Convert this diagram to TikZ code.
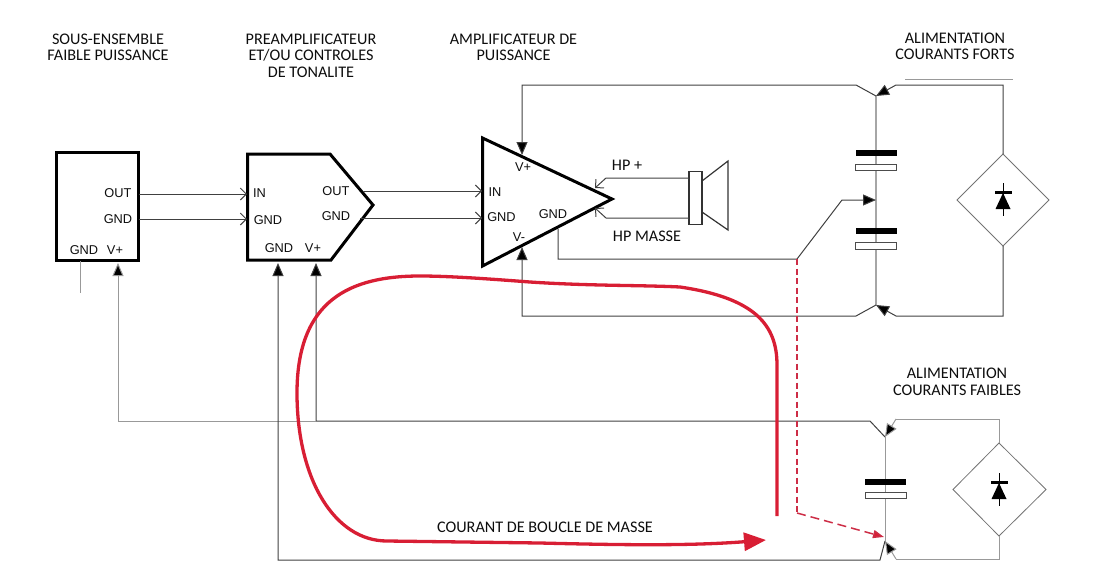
\documentclass[tikz,border=0pt]{standalone}
\usepackage{fontspec}
\setmainfont{Carlito}
\newfontfamily\arialfont{Liberation Sans}
\usetikzlibrary{arrows.meta,positioning,calc}

\definecolor{loopred}{RGB}{216,30,52}
\definecolor{dashred}{RGB}{205,45,70}

\tikzset{
	wire/.style={draw=black!75,line width=1pt,line join=miter},
	wirepale/.style={draw=black!40,line width=1pt},
	rail/.style={draw=black!35,line width=1.2pt},
	block/.style={draw=black,line width=3pt,line join=miter},
	openin/.style={-{Straight Barb[length=6pt,width=12pt]}},
	solidin/.style={-{Triangle[length=13pt,width=11pt,fill=black]}},
	caption/.style={font=\fontsize{16.2}{16.5}\selectfont,align=center,inner sep=0pt,text=black!95},
	pinlabel/.style={font=\arialfont\fontsize{12.8}{14}\selectfont,inner sep=0pt,text=black!95},
	groundred/.style={draw=loopred,line width=3.3pt},
}

\begin{document}
\begin{tikzpicture}[x=1pt,y=-1pt]
	\useasboundingbox (0,0) rectangle (1097,581);
	
	% sub-block outlines
	\node[block,minimum width=81.7pt,minimum height=107.5pt,inner sep=0pt] (lowpower) at (97.2,206.5) {};
	\coordinate (preA) at (247.5,154);
	\coordinate (preB) at (330,154);
	\coordinate (preC) at (373,205);
	\coordinate (preD) at (331,260);
	\coordinate (preE) at (247.5,260);
	\draw[block] (preA)--(preB)--(preC)--(preD)--(preE)--cycle;
	\coordinate (ampA) at (482.5,138);
	\coordinate (ampB) at (612,199);
	\coordinate (ampC) at (482.5,266);
	\draw[block] (ampA)--(ampB)--(ampC)--cycle;
	
	% loudspeaker
	\node[draw=black!80,line width=1.2pt,minimum width=13pt,minimum height=53pt,inner sep=0pt] (hpcoil) at (695.5,198) {};
	\coordinate (coneA) at (702,181);
	\coordinate (coneB) at (728,161);
	\coordinate (coneC) at (728,230);
	\coordinate (coneD) at (702,212);
	\draw[black!80,line width=1.2pt] (coneA)--(coneB)--(coneC)--(coneD);
	
	% signal links
	\foreach \nm/\xa/\xb/\yy in {sigA/139/247/194,sigB/139/247/219,sigC/364/482/191,sigD/360/482/218}{
		\coordinate (\nm a) at (\xa,\yy);
		\coordinate (\nm b) at (\xb,\yy);
		\draw[wire,openin] (\nm a)--(\nm b);
	}
	
	% loudspeaker wires
	\coordinate (hpP) at (689,178);
	\coordinate (hpPk) at (606,178);
	\coordinate (hpPt) at (595,188);
	\coordinate (hpM) at (689,218);
	\coordinate (hpMk) at (606,218);
	\coordinate (hpMt) at (595,208);
	\draw[wire,openin] (hpP)--(hpPk)--(hpPt);
	\draw[wire,openin] (hpM)--(hpMk)--(hpMt);
	
	% high current supply
	\coordinate (hiTop) at (876,96);
	\coordinate (hiBot) at (876,305);
	\coordinate (hiMid) at (876,200);
	\coordinate (hiDn) at (1003,154);
	\coordinate (hiDe) at (1049,200);
	\coordinate (hiDs) at (1003,246);
	\coordinate (hiDw) at (957,200);
	\draw[rail] (hiTop)--(hiBot);
	\draw[black!55,line width=.8pt] (hiDn)--(hiDe)--(hiDs)--(hiDw)--cycle;
	\coordinate (vpT) at (522,155);
	\coordinate (vpC) at (522,85);
	\coordinate (vpK) at (856,85);
	\draw[wire,solidin] (hiTop)--(vpK)--(vpC)--(vpT);
	\coordinate (hiRa) at (896,85);
	\coordinate (hiRb) at (1003,85);
	\draw[wire,solidin] (hiDn)--(hiRb)--(hiRa)--(hiTop);
	\coordinate (vmT) at (522,247);
	\coordinate (vmC) at (522,316);
	\coordinate (vmK) at (856,316);
	\draw[wire,solidin] (hiBot)--(vmK)--(vmC)--(vmT);
	\coordinate (hiRc) at (896,316);
	\coordinate (hiRd) at (1003,316);
	\draw[wire,solidin] (hiDs)--(hiRd)--(hiRc)--(hiBot);
	\coordinate (ovl) at (905,79);
	\coordinate (ovr) at (1013,79);
	\draw[black!40,line width=.7pt] (ovl)--(ovr);
	
	% amplifier ground to the capacitor midpoint
	\coordinate (gndA) at (558,229);
	\coordinate (gndB) at (558,259);
	\coordinate (gndC) at (797,259);
	\coordinate (gndD) at (842,200);
	\draw[wire,solidin] (gndA)--(gndB)--(gndC)--(gndD)--(hiMid);
	
	% low current supply
	\coordinate (loTop) at (885,437);
	\coordinate (loBot) at (885,541);
	\coordinate (loDn) at (999,443);
	\coordinate (loDe) at (1046,489.5);
	\coordinate (loDs) at (999,536);
	\coordinate (loDw) at (953,489.5);
	\draw[wirepale] (loTop)--(loBot);
	\draw[black!55,line width=.8pt] (loDn)--(loDe)--(loDs)--(loDw)--cycle;
	\coordinate (pvK) at (870,421);
	\coordinate (pvJ) at (316,421);
	\coordinate (pvT) at (316,263);
	\coordinate (pvL) at (118,421);
	\coordinate (pvU) at (118,263);
	\draw[wire,solidin] (loTop)--(pvK)--(pvJ)--(pvT);
	\draw[wirepale,solidin] (pvJ)--(pvL)--(pvU);
	\coordinate (loRa) at (896,419);
	\coordinate (loRb) at (999,419);
	\draw[wirepale] (loDn)--(loRb)--(loRa);
	\draw[wirepale,solidin] (loRa)--(loTop);
	\coordinate (loRc) at (896,559);
	\coordinate (loRd) at (999,559);
	\draw[wirepale] (loDs)--(loRd)--(loRc);
	\draw[wirepale,solidin] (loRc)--(loBot);
	\coordinate (pgK) at (880,560);
	\coordinate (pgC) at (278,560);
	\coordinate (pgT) at (278,263);
	\draw[wire,solidin] (loBot)--(pgK)--(pgC)--(pgT);
	\coordinate (stubA) at (80,261);
	\coordinate (stubB) at (80,293);
	\draw[wirepale] (stubA)--(stubB);
	
	% capacitors
	\foreach \cx/\ca/\cb/\cc/\cd in {876/150/156/164/170,876/228/234/242/249,885.5/478.5/484.5/492/498}{
		\fill[black] (\cx-20.5,\ca) rectangle (\cx+20.5,\cb);
		\draw[draw=black!70,fill=white,line width=.9pt] (\cx-20.5,\cc) rectangle (\cx+20.5,\cd);
	}
	
	% rectifier diodes
	\foreach \dx/\dy in {1003/183,999/473}{
		\draw[black,line width=.8pt] (\dx,\dy)--(\dx,\dy+33);
		\fill[black] (\dx-8.5,\dy+8) rectangle (\dx+8.5,\dy+11);
		\fill[black] (\dx,\dy+10)--(\dx+7.5,\dy+26)--(\dx-7.5,\dy+26)--cycle;
	}
	
	% ground return, dashed branch
	\coordinate (retA) at (797,513);
	\coordinate (retB) at (884,537);
	\draw[dashred,line width=1.5pt,dash pattern=on 6pt off 3.5pt] (gndC)--(retA);
	\draw[dashred,line width=1.5pt,dash pattern=on 9pt off 5pt,-{Triangle[length=11pt,width=8pt,fill=loopred]}] (retA)--(retB);
	
	% ground loop current
	\coordinate (loopS) at (777,516);
	\coordinate (loopE) at (766,540);
	\draw[groundred,-{Triangle[length=22pt,width=18pt,fill=loopred]}] (loopS)--(777,365)
		.. controls (777,325) and (755,298) .. (680,287)
		.. controls (640,285) and (590,286) .. (530,282)
		.. controls (490,279) and (450,276) .. (420,276)
		.. controls (350,276) and (297,300) .. (297,393)
		.. controls (297,480) and (335,541) .. (387,541)
		-- (540,543)
		.. controls (620,545) and (690,546) .. (loopE);
	
	% block titles
	\node[caption] (titleLow) at (108,47.5) {SOUS-ENSEMBLE\\FAIBLE PUISSANCE};
	\node[caption] (titlePre) at (311,55.5) {PREAMPLIFICATEUR\\ET/OU CONTROLES\\DE TONALITE};
	\node[caption] (titleAmp) at (513.5,47.5) {AMPLIFICATEUR DE\\PUISSANCE};
	\node[caption] (titleHi) at (955,46.5) {ALIMENTATION\\COURANTS FORTS};
	\node[caption] (titleLo) at (957,382) {ALIMENTATION\\COURANTS FAIBLES};
	\node[caption] (loopLabel) at (545,527) {COURANT DE BOUCLE DE MASSE};
	\node[caption] (hpPlus) at (627,165) {HP +};
	\node[caption] (hpMasse) at (647,236) {HP MASSE};
	
	% pin names
	\node[pinlabel] (lowOut) at (118,193) {OUT};
	\node[pinlabel] (lowGnd) at (118,219.5) {GND};
	\node[pinlabel] (lowGndB) at (84,250) {GND};
	\node[pinlabel] (lowVp) at (115,250) {V+};
	\node[pinlabel] (preIn) at (259.5,193.5) {IN};
	\node[pinlabel] (preGnd) at (268,220) {GND};
	\node[pinlabel] (preGndB) at (279,248) {GND};
	\node[pinlabel] (preVp) at (313,248) {V+};
	\node[pinlabel] (preOut) at (336,191) {OUT};
	\node[pinlabel] (preGndO) at (336,216.5) {GND};
	\node[pinlabel] (ampVp) at (523,167) {V+};
	\node[pinlabel] (ampIn) at (495,192.5) {IN};
	\node[pinlabel] (ampGnd) at (501.5,217) {GND};
	\node[pinlabel] (ampGndO) at (553,214) {GND};
	\node[pinlabel] (ampVm) at (519,237) {V-};
\end{tikzpicture}
\end{document}
